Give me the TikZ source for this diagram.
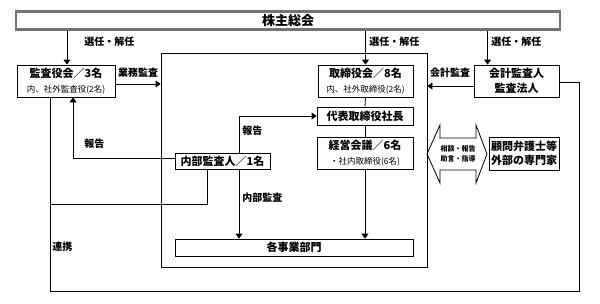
\documentclass[tikz,border=0pt]{standalone}
\usepackage{fontspec}
\setmainfont{Noto Sans CJK JP}
\usetikzlibrary{arrows.meta,calc}
\begin{document}
\begin{tikzpicture}[x=1pt,y=-1pt,
  line width=0.8pt,
  arr/.style={-{Triangle[length=5pt,width=7pt]}},
  box/.style={draw, fill=white, inner sep=0pt, align=center},
  ttl/.style={font=\fontsize{11}{13}\selectfont\bfseries},
  lbl/.style={font=\fontsize{10}{11}\selectfont\bfseries, inner sep=0pt},
]
\useasboundingbox (0,0) rectangle (600,303);
% shareholders
\node[box, draw=black!55, line width=2.2pt, minimum width=544pt, minimum height=18pt] (top) at (288,20.5) {};
\node[font=\fontsize{13}{14}\selectfont\bfseries] (toplbl) at (288,20.5) {株主総会};
% inner big rectangle
\node[draw, minimum width=266pt, minimum height=214pt, inner sep=0pt] (big) at (294,160) {};
% boxes
\node[box, minimum width=98pt, minimum height=32pt] (kansa) at (66,81)
  {{\fontsize{11}{13}\selectfont\bfseries 監査役会／3名}\\[3pt]{\fontsize{8.5}{10}\selectfont 内、社外監査役(2名)}};
\node[box, minimum width=95pt, minimum height=32pt] (tori) at (365.5,81)
  {{\fontsize{11}{13}\selectfont\bfseries 取締役会／8名}\\[3pt]{\fontsize{8.5}{10}\selectfont 内、社外取締役(2名)}};
\node[box, minimum width=85pt, minimum height=32pt] (kaikei) at (516.5,81)
  {{\fontsize{11}{13}\selectfont\bfseries 会計監査人}\\[3pt]{\fontsize{11}{13}\selectfont\bfseries 監査法人}};
\node[box, minimum width=96pt, minimum height=18pt, ttl] (daihyo) at (365,116) {代表取締役社長};
\node[box, minimum width=96pt, minimum height=32pt] (keiei) at (365,153)
  {{\fontsize{11}{13}\selectfont\bfseries 経営会議／6名}\\[3pt]{\fontsize{8.5}{10}\selectfont ・社内取締役(6名)}};
\node[box, minimum width=95pt, minimum height=16pt, ttl] (naibu) at (222.5,161) {内部監査人／1名};
\node[box, minimum width=238pt, minimum height=17pt, ttl] (kaku) at (294,247.5) {各事業部門};
\node[box, minimum width=70pt, minimum height=33pt] (komon) at (524,153.5)
  {{\fontsize{11}{13}\selectfont\bfseries 顧問弁護士等}\\[2pt]{\fontsize{11}{13}\selectfont\bfseries 外部の専門家}};
% double arrow
\draw (427,154) -- (440,125) -- (440,138) -- (476,138) -- (476,125) -- (487,154)
  -- (476,183) -- (476,170) -- (440,170) -- (440,183) -- cycle;
\node[font=\fontsize{7}{10}\selectfont\bfseries, align=center, inner sep=0pt] (soudan) at (458,154) {相談・報告\\助言・指導};
% connectors from top
\draw[arr] (top.south -| 67,0) -- ([xshift=1pt]kansa.north);
\draw[arr] (top.south -| tori.north) -- (tori.north);
\draw[arr] ([xshift=14pt]top.south -| kaikei.north west) -- ([xshift=14pt]kaikei.north west);
\node[lbl, anchor=west] (l1) at (84,42) {選任・解任};
\node[lbl, anchor=west] (l2) at (369,42) {選任・解任};
\node[lbl, anchor=west] (l3) at (491,42) {選任・解任};
% audits
\draw[arr] ([yshift=-3pt]kansa.east) -- ([yshift=-3pt]kansa.east -| big.west);
\node[lbl] (l4) at (138,73) {業務監査};
\draw[arr] ([yshift=-5pt]kaikei.west) -- ([yshift=-5pt]kaikei.west -| big.east);
\node[lbl] (l5) at (450,73) {会計監査};
% chain
\draw (tori.south) -- (daihyo.north);
\draw (daihyo.south) -- (keiei.north);
\draw[arr] (keiei.south) -- (keiei.south |- kaku.north);
% internal auditor
\draw[arr] ([xshift=16.5pt]naibu.north) |- (daihyo.west);
\node[lbl, anchor=west] (l6) at (242,131) {報告};
\draw[arr] ([xshift=16.5pt]naibu.south) -- ([xshift=16.5pt]naibu.south |- kaku.north);
\node[lbl, anchor=west] (l7) at (242,198) {内部監査};
\draw[arr] ([yshift=3pt]naibu.west) -| ([xshift=7pt]kansa.south);
\node[lbl, anchor=west] (l8) at (84,144) {報告};
% cooperation loop
\coordinate (loopBR) at (579,291);
\coordinate (junc) at (50,204);
\draw ([xshift=-16pt]kansa.south) |- (loopBR) |- ([yshift=-1pt]kaikei.east);
\draw (junc) -| ([xshift=-15.5pt]naibu.south);
\node[lbl, anchor=west] (l9) at (52,247) {連携};
\end{tikzpicture}
\end{document}
